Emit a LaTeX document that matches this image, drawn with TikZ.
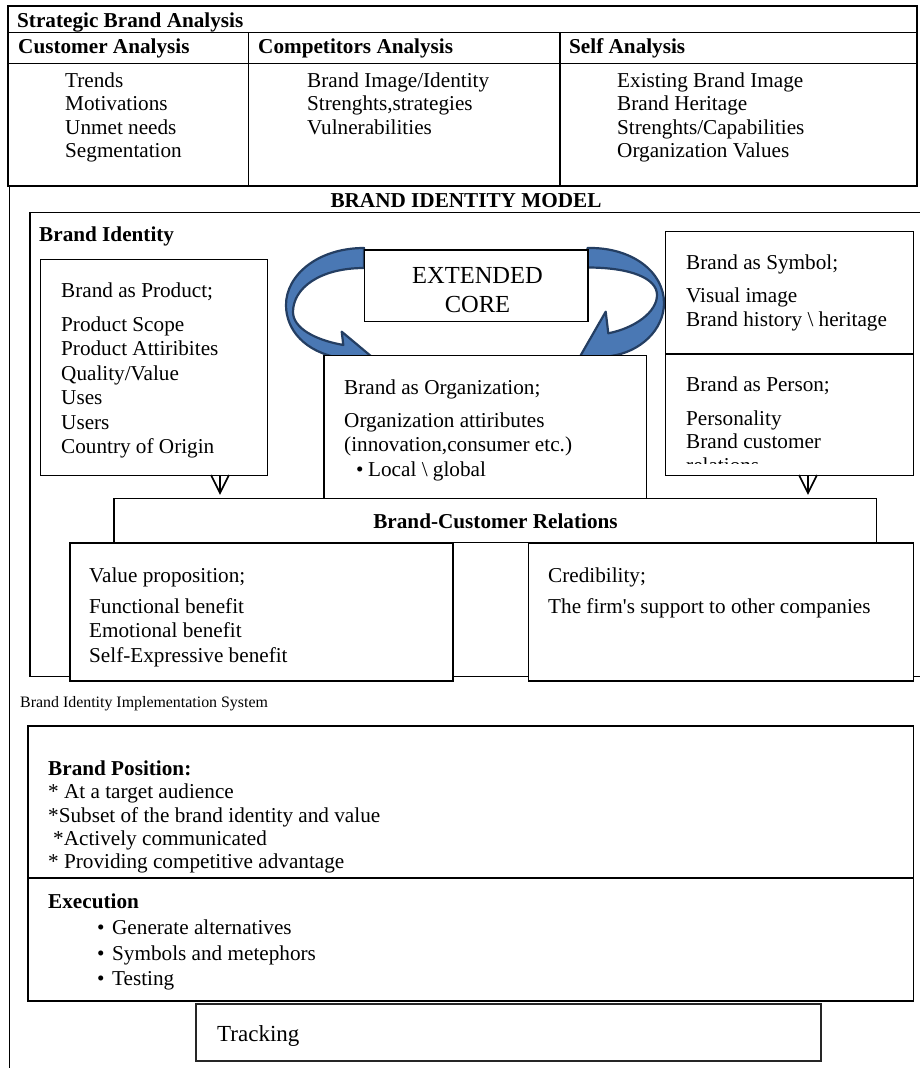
\documentclass[tikz,border=0pt]{standalone}
\usepackage{fontspec}
\setmainfont{Liberation Serif}
\usetikzlibrary{arrows.meta,calc}
\definecolor{arrfill}{RGB}{74,120,180}
\definecolor{arrdraw}{RGB}{36,62,98}
\tikzset{
  box/.style={draw, line width=1.2pt, fill=white, inner sep=0pt, anchor=north west},
  thickbox/.style={box, line width=1.7pt},
  txt/.style={anchor=base west, inner sep=0pt, font=\fontsize{21.2}{24}\selectfont},
  btxt/.style={txt, font=\fontsize{21.2}{24}\selectfont\bfseries},
  ctxt/.style={anchor=base, inner sep=0pt, font=\fontsize{24.5}{28}\selectfont},
  tableline/.style={line width=1.5pt},
  curvearrow/.style={fill=arrfill, draw=arrdraw, line width=2.2pt, line join=round},
  vline/.style={line width=1.6pt, line join=miter},
}
\def\rightcurve{(587.5,248) .. controls (632,247) and (664,272) .. (664,303) .. controls (664,330) and (640,352) .. (611,356) -- (614,376) -- (578,360) -- (605.7,311.7) -- (608.3,333.3) .. controls (635,328) and (657,312) .. (657,295) .. controls (657,278) and (630,267.5) .. (587.5,267.5) -- cycle}
\def\leftcurve{(364,248) .. controls (318,248) and (286,275) .. (286,305) .. controls (286,330) and (305,352) .. (340,358) -- (346,378) -- (378,362) -- (341.7,331.7) -- (343.3,345) .. controls (315,340) and (293,328) .. (293,312) .. controls (293,288) and (320,268) .. (364,268) -- cycle}
\begin{document}
\begin{tikzpicture}[x=1pt,y=-1pt]
\useasboundingbox (0,0) rectangle (920,1068);
\clip (0,0) rectangle (920,1068);
\fill[white] (0,0) rectangle (920,1068);

% ---------- Strategic Brand Analysis table ----------
\node[box, line width=1.5pt, minimum width=909, minimum height=180] (table) at (7,5) {};
\draw[tableline] (table.north west |- 0,32.3) -- (table.north east |- 0,32.3);
\draw[tableline] (table.north west |- 0,63.3) -- (table.north east |- 0,63.3);
\draw[tableline] (248.3,32.3) -- (248.3,185);
\draw[tableline] (560,32.3) -- (560,185);
\node[btxt] (sba) at (17,27.5) {Strategic Brand Analysis};
\node[btxt] (cah) at (18,53.5) {Customer Analysis};
\node[btxt] (coh) at (258,53.5) {Competitors Analysis};
\node[btxt] (sah) at (569,53.5) {Self Analysis};
\foreach \t [count=\i] in {Trends,Motivations,Unmet needs,Segmentation}
  \node[txt] (cu\i) at (65,{87.5+23.4*(\i-1)}) {\t};
\foreach \t [count=\i] in {Brand Image/Identity,{Strenghts,strategies},Vulnerabilities}
  \node[txt] (co\i) at (307,{87.5+23.4*(\i-1)}) {\t};
\foreach \t [count=\i] in {Existing Brand Image,Brand Heritage,Strenghts/Capabilities,Organization Values}
  \node[txt] (se\i) at (617,{87.5+23.4*(\i-1)}) {\t};

% ---------- Brand identity model frame ----------
\draw[line width=1.5pt] (9.5,185) -- (9.5,1068);
\node[anchor=base, inner sep=0pt, font=\fontsize{21.2}{24}\selectfont\bfseries] (bim) at (466,207) {BRAND IDENTITY MODEL};
\draw[line width=1.4pt] (930,212.3) -- (30,212.3) -- (30,676.7) -- (930,676.7);
\node[btxt] (bid) at (39,241) {Brand Identity};

% ---------- curved arrows ----------
\path[curvearrow] \rightcurve;
\path[curvearrow] \leftcurve;

% ---------- boxes ----------
\node[box, minimum width=226.7, minimum height=216.3] (prod) at (40,258.7) {};
\node[box, minimum width=223.3, minimum height=71.4] (core) at (364,249.3) {};
\node[box, minimum width=247.7, minimum height=122.3] (sym) at (665,231) {};
\node[box, minimum width=247.7, minimum height=121.7] (per) at (665,353.3) {};
\node[box, minimum width=322.4, minimum height=142.5] (org) at (323.3,355) {};
\node[box, minimum width=762.7, minimum height=44] (bcr) at (113.3,498) {};
\node[box, line width=1.5pt, minimum width=383, minimum height=138] (val) at (69,542) {};
\node[box, line width=1.5pt, minimum width=385, minimum height=138] (cred) at (527.7,542) {};

% ---------- down arrows (open V heads) ----------
\coordinate (ca) at (220,0);
\coordinate (cb) at (808,0);
\coordinate (tipa) at ($(bcr.north -| ca)+(0,-5)$);
\coordinate (tipb) at ($(bcr.north -| cb)+(0,-5)$);
\draw[vline] (prod.south -| ca) -- (tipa);
\draw[vline] (tipa) ++(-9,-18) -- (tipa) -- ++(9,-18);
\draw[vline] (per.south -| cb) -- (tipb);
\draw[vline] (tipb) ++(-9,-18) -- (tipb) -- ++(9,-18);

% ---------- box texts ----------
\node[txt] (p0) at (61,297) {Brand as Product;};
\foreach \t [count=\i] in {Product Scope,Product Attiribites,Quality/Value,Uses,Users,Country of Origin}
  \node[txt] (p\i) at (61,{331+24.5*(\i-1)}) {\t};

\node[ctxt] (core1) at (477.5,283) {EXTENDED};
\node[ctxt] (core2) at (477.5,312) {CORE};

\node[txt] (o0) at (344,394) {Brand as Organization;};
\node[txt] (o1) at (344,427) {Organization attiributes};
\node[txt] (o2) at (344,451.5) {(innovation,consumer etc.)};
\node[txt] (o3) at (356,476.5) {\makebox[12pt][l]{•}Local \textbackslash{} global};

\node[txt] (s0) at (686,269) {Brand as Symbol;};
\node[txt] (s1) at (686,302.7) {Visual image};
\node[txt] (s2) at (686,326.7) {Brand history \textbackslash{} heritage};

\node[txt] (ps0) at (686,391.7) {Brand as Person;};
\node[txt] (ps1) at (686,425) {Personality};
\node[txt] (ps2) at (686,448.3) {Brand customer};
\begin{scope}
  \clip (665,440) rectangle (912,463);
  \node[txt] (ps3) at (686,472) {relations};
\end{scope}

\node[anchor=base, inner sep=0pt, font=\fontsize{21.2}{24}\selectfont\bfseries] (bcrt) at (495.5,528) {Brand-Customer Relations};

\node[txt] (v0) at (89,582) {Value proposition;};
\foreach \t [count=\i] in {Functional benefit,Emotional benefit,Self-Expressive benefit}
  \node[txt] (v\i) at (89,{613+24.5*(\i-1)}) {\t};

\node[txt] (c0) at (548,582) {Credibility;};
\node[txt] (c1) at (548,613) {The firm\textquotesingle s support to other companies};

% ---------- implementation system ----------
\node[anchor=base west, inner sep=0pt, font=\fontsize{15.9}{18}\selectfont] (bis) at (20,707) {Brand Identity Implementation System};

\node[thickbox, minimum width=885.7, minimum height=152] (pos) at (27,725) {};
\node[thickbox, minimum width=885.7, minimum height=123.3] (exe) at (27,877) {};
\node[box, line width=1.5pt, draw=black!85, minimum width=625, minimum height=57.3] (trk) at (195,1003) {};

\node[btxt] (bp0) at (48,775) {Brand Position:};
\node[txt] (bp1) at (48,798) {* At a target audience};
\node[txt] (bp2) at (48,822) {*Subset of the brand identity and value};
\node[txt] (bp3) at (53,845) {*Actively communicated};
\node[txt] (bp4) at (48,868) {* Providing competitive advantage};

\node[btxt] (ex0) at (48,908) {Execution};
\foreach \t [count=\i] in {Generate alternatives,Symbols and metephors,Testing}
  \node[txt] (ex\i) at (97,{934.7+25.3*(\i-1)}) {\makebox[15pt][l]{•}\t};

\node[anchor=base west, inner sep=0pt, font=\fontsize{23}{26}\selectfont] (trkt) at (217,1041) {Tracking};
\end{tikzpicture}
\end{document}
